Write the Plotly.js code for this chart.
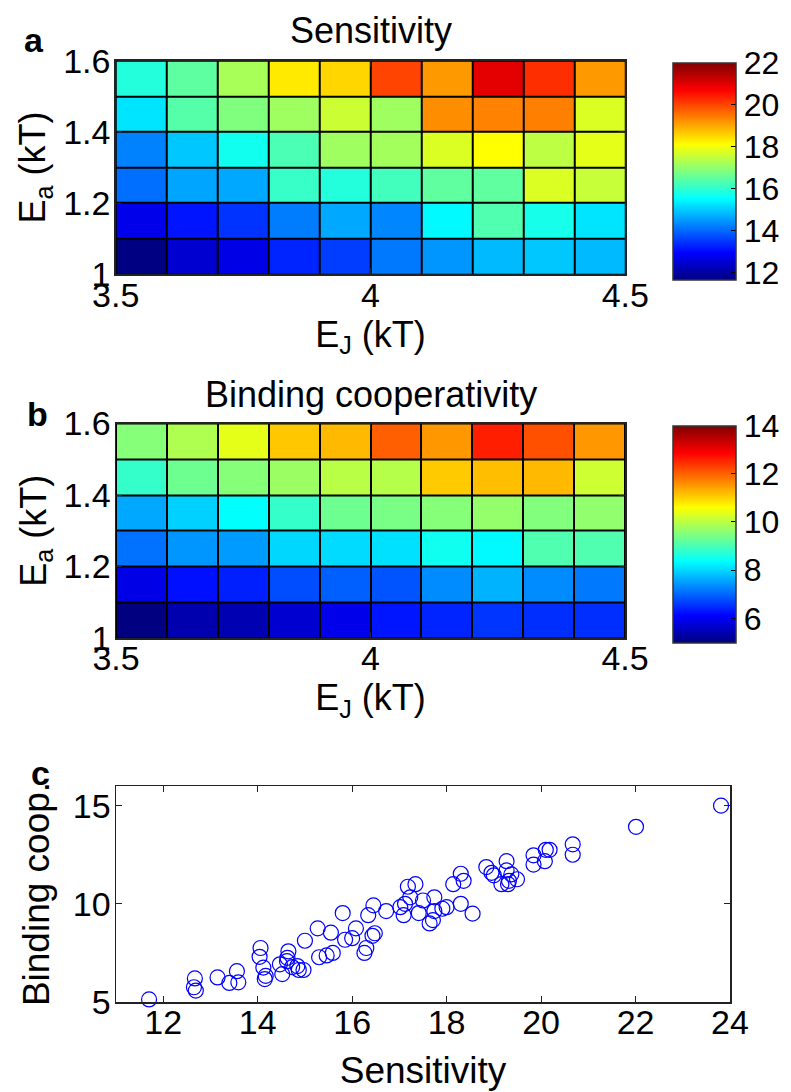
<!DOCTYPE html>
<html>
<head>
<meta charset="utf-8">
<script src="https://cdn.plot.ly/plotly-3.0.1.min.js"></script>
<style>html,body{margin:0;padding:0;background:#fff;}#chart{width:791px;height:1092px;}</style>
</head>
<body>
<div id="chart"></div>
<script>
// Cell centres
var EJ = [3.55, 3.65, 3.75, 3.85, 3.95, 4.05, 4.15, 4.25, 4.35, 4.45];
var Ea = [1.05, 1.15, 1.25, 1.35, 1.45, 1.55];

// Sensitivity, rows by Ea ascending
var sensRow105 = [11.68, 12.48, 12.69, 13.31, 13.56, 14.17, 14.47, 14.83, 14.96, 14.83];
var sensRow115 = [12.74, 13.15, 13.46, 14.21, 14.65, 14.31, 15.48, 16.34, 15.74, 15.27];
var sensRow125 = [14.06, 14.62, 14.65, 16.10, 15.89, 16.20, 16.51, 16.51, 17.76, 17.55];
var sensRow135 = [14.26, 14.96, 15.69, 16.29, 17.14, 17.19, 17.76, 18.12, 17.45, 17.86];
var sensRow145 = [15.27, 16.39, 16.83, 17.14, 17.60, 17.14, 19.28, 19.38, 19.41, 17.76];
var sensRow155 = [15.89, 16.49, 17.24, 18.33, 18.53, 20.03, 19.15, 20.97, 20.24, 19.15];

// Binding cooperativity, rows by Ea ascending
var coopRow105 = [5.00, 5.42, 5.45, 5.72, 5.95, 6.31, 6.44, 6.58, 6.53, 6.53];
var coopRow115 = [5.90, 6.26, 6.40, 6.80, 6.96, 6.87, 7.36, 7.70, 7.36, 7.19];
var coopRow125 = [7.13, 7.45, 7.49, 8.02, 8.06, 8.11, 8.51, 8.33, 9.08, 9.08];
var coopRow135 = [7.61, 7.97, 8.38, 8.83, 9.35, 9.44, 9.56, 9.68, 9.52, 9.65];
var coopRow145 = [8.83, 9.35, 9.56, 9.74, 10.01, 9.97, 11.08, 11.19, 11.24, 10.18];
var coopRow155 = [9.56, 9.92, 10.40, 11.12, 11.24, 12.04, 11.53, 12.61, 12.17, 11.53];

// Scatter (panel c)
var scatSens = [11.70, 12.67, 12.65, 12.69, 13.15, 13.40, 13.56, 13.59, 14.06, 14.04, 14.12, 14.17, 14.15, 14.47, 14.52, 14.65, 14.63, 14.73, 14.87, 14.97, 15.00, 15.27, 15.30, 15.46, 15.59, 15.55, 15.80, 15.85, 16.00, 16.08, 16.26, 16.30, 16.34, 16.48, 16.43, 16.45, 16.72, 17.02, 17.09, 17.12, 17.18, 17.34, 17.23, 17.41, 17.50, 17.64, 17.71, 17.74, 17.74, 17.91, 18.00, 18.14, 18.30, 18.36, 18.30, 18.55, 18.84, 18.95, 19.00, 19.16, 19.27, 19.27, 19.30, 19.32, 19.49, 19.84, 19.84, 20.08, 20.10, 20.18, 20.67, 20.67, 22.01, 23.81, 14.84, 19.37, 14.62];
var scatCoop = [5.13, 6.20, 5.75, 5.58, 6.25, 5.97, 6.57, 6.00, 7.75, 7.30, 6.75, 6.33, 6.17, 6.92, 6.42, 7.58, 7.25, 6.78, 6.63, 6.63, 8.12, 8.75, 7.28, 7.37, 7.50, 8.53, 9.53, 8.17, 8.25, 8.75, 7.50, 7.75, 9.42, 8.50, 8.37, 9.92, 9.63, 9.83, 9.42, 10.00, 10.87, 11.00, 10.33, 9.53, 10.17, 9.00, 9.17, 10.33, 9.63, 9.75, 9.83, 11.00, 11.53, 11.17, 10.00, 9.50, 11.87, 11.58, 11.45, 11.00, 12.17, 11.70, 11.00, 11.17, 11.25, 12.47, 12.00, 12.17, 12.75, 12.75, 13.03, 12.50, 13.92, 15.00, 6.83, 11.50, 7.08];

// Tick labels
var hmXTicks = [3.5, 4, 4.5];
var hmXText = ['3.5', '4', '4.5'];
var hmYTicks = [1, 1.2, 1.4, 1.6];
var hmYText = ['1', '1.2', '1.4', '1.6'];
var sensCbTicks = [12, 14, 16, 18, 20, 22];
var coopCbTicks = [6, 8, 10, 12, 14];
var scXTicks = [12, 14, 16, 18, 20, 22, 24];
var scYTicks = [5, 10, 15];

var sensZ = [sensRow105, sensRow115, sensRow125, sensRow135, sensRow145, sensRow155];
var coopZ = [coopRow105, coopRow115, coopRow125, coopRow135, coopRow145, coopRow155];

var jet = [[0, 'rgb(0,0,128)'], [0.125, 'rgb(0,0,255)'], [0.375, 'rgb(0,255,255)'],
           [0.625, 'rgb(255,255,0)'], [0.875, 'rgb(255,0,0)'], [1, 'rgb(128,0,0)']];

var FONT = 'Liberation Sans, Arial, Helvetica, sans-serif';
var W = 791, H = 1092;
function px(x){ return x / W; }
function py(y){ return 1 - y / H; }

var cbCommon = {
  thickness: 63, thicknessmode: 'pixels', len: 217, lenmode: 'pixels',
  xanchor: 'left', yanchor: 'middle', xpad: 0, ypad: 0,
  outlinecolor: '#333', outlinewidth: 1.5,
  ticks: 'inside', ticklen: 5, tickcolor: '#000', tickwidth: 1,
  tickfont: {family: FONT, size: 32, color: '#000'}
};

var traces = [
  {
    type: 'heatmap', x: EJ, y: Ea, z: sensZ, xaxis: 'x', yaxis: 'y',
    colorscale: jet, zmin: 11.65, zmax: 22, xgap: 2, ygap: 2,
    hoverinfo: 'skip',
    colorbar: Object.assign({}, cbCommon, {x: px(673), y: py(171.5), tickvals: sensCbTicks})
  },
  {
    type: 'heatmap', x: EJ, y: Ea, z: coopZ, xaxis: 'x2', yaxis: 'y2',
    colorscale: jet, zmin: 5.0, zmax: 14.0, xgap: 2, ygap: 2,
    hoverinfo: 'skip',
    colorbar: Object.assign({}, cbCommon, {x: px(673), y: py(534), tickvals: coopCbTicks})
  },
  {
    type: 'scatter', mode: 'markers', x: scatSens, y: scatCoop, xaxis: 'x3', yaxis: 'y3',
    marker: {symbol: 'circle-open', size: 15, color: 'rgb(0,0,255)', line: {width: 1.2, color: 'rgb(0,0,255)'}},
    cliponaxis: false, showlegend: false, hoverinfo: 'skip'
  }
];

function axisBase(extra){
  return Object.assign({
    showgrid: false, zeroline: false, showline: true, linecolor: '#222', linewidth: 1.5,
    mirror: 'ticks', ticks: 'inside', ticklen: 6, tickcolor: '#222',
    tickfont: {family: FONT, size: 34, color: '#000'},
    tickmode: 'array', fixedrange: true
  }, extra);
}

var layout = {
  width: W, height: H,
  margin: {l: 0, r: 0, t: 0, b: 0},
  paper_bgcolor: '#fff', plot_bgcolor: '#000',
  showlegend: false,
  font: {family: FONT, color: '#000'},
  xaxis: axisBase({domain: [px(115.7), px(625.3)], anchor: 'y', range: [3.5, 4.5], tickvals: hmXTicks, ticktext: hmXText,
    ticklabelstandoff: -10,
    title: {text: 'E<sub>J</sub> (kT)', font: {family: FONT, size: 36}, standoff: 4}}),
  yaxis: axisBase({domain: [py(274.3), py(60.7)], anchor: 'x', range: [1, 1.6], tickvals: hmYTicks, ticktext: hmYText,
    ticklabelstandoff: -3,
    title: {text: 'E<sub>a</sub> (kT)', font: {family: FONT, size: 36}, standoff: 6}}),
  xaxis2: axisBase({domain: [px(116), px(625)], anchor: 'y2', range: [3.5, 4.5], tickvals: hmXTicks, ticktext: hmXText,
    ticklabelstandoff: -10,
    title: {text: 'E<sub>J</sub> (kT)', font: {family: FONT, size: 36}, standoff: 4}}),
  yaxis2: axisBase({domain: [py(638), py(423.5)], anchor: 'x2', range: [1, 1.6], tickvals: hmYTicks, ticktext: hmYText,
    ticklabelstandoff: -3,
    title: {text: 'E<sub>a</sub> (kT)', font: {family: FONT, size: 36}, standoff: 6}}),
  xaxis3: axisBase({domain: [px(116), px(730)], anchor: 'y3', range: [11, 24], tickvals: scXTicks,
    ticklabelstandoff: -10,
    title: {text: 'Sensitivity', font: {family: FONT, size: 37}, standoff: 17}}),
  yaxis3: axisBase({domain: [py(1002), py(786)], anchor: 'x3', range: [5, 16], tickvals: scYTicks,
    ticklabelstandoff: -3,
    title: {text: 'Binding coop.', font: {family: FONT, size: 37}, standoff: 12}}),
  shapes: [
    {type: 'rect', xref: 'paper', yref: 'paper', x0: px(116), x1: px(730), y0: py(1002), y1: py(786),
     fillcolor: '#fff', line: {width: 0}, layer: 'below'}
  ],
  annotations: [
    {text: 'Sensitivity', xref: 'paper', yref: 'paper', x: px(370.5), y: py(30), showarrow: false,
     xanchor: 'center', yanchor: 'middle', font: {family: FONT, size: 36, color: '#000'}},
    {text: 'Binding cooperativity', xref: 'paper', yref: 'paper', x: px(370.5), y: py(394), showarrow: false,
     xanchor: 'center', yanchor: 'middle', font: {family: FONT, size: 36, color: '#000'}},
    {text: '<b>a</b>', xref: 'paper', yref: 'paper', x: px(34), y: py(40), showarrow: false,
     xanchor: 'center', yanchor: 'middle', font: {family: FONT, size: 34, color: '#000'}},
    {text: '<b>b</b>', xref: 'paper', yref: 'paper', x: px(37), y: py(414), showarrow: false,
     xanchor: 'center', yanchor: 'middle', font: {family: FONT, size: 34, color: '#000'}},
    {text: '<b>c</b>', xref: 'paper', yref: 'paper', x: px(40), y: py(773), showarrow: false,
     xanchor: 'center', yanchor: 'middle', font: {family: FONT, size: 34, color: '#000'}}
  ]
};

Plotly.newPlot('chart', traces, layout, {staticPlot: true, displayModeBar: false});
</script>
</body>
</html>
